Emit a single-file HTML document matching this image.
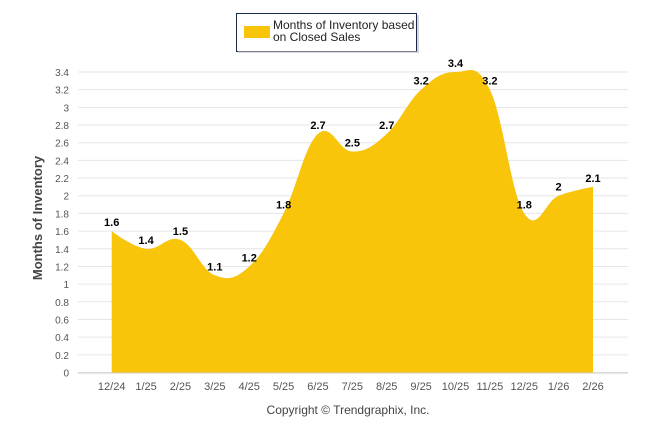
<!DOCTYPE html>
<html><head><meta charset="utf-8"><style>
body{margin:0;background:#fff;font-family:"Liberation Sans",sans-serif}
svg text{font-family:"Liberation Sans",sans-serif}
svg text.n{font-family:"Liberation Sans Narrow","Liberation Sans",sans-serif}
</style></head><body>
<svg id="c" width="646" height="434">
<g>
<rect x="236.5" y="13.5" width="180" height="38" fill="#fff" stroke="#1a2a4a" stroke-width="1"/>
<rect x="238" y="51" width="180" height="2" fill="#bbb" opacity="0.6"/>
<rect x="417" y="15" width="2" height="38" fill="#bbb" opacity="0.6"/>
<rect x="244" y="26" width="26" height="12" fill="#f8c50a"/>
<text class="n" x="273" y="29" font-size="12" fill="#222">Months of Inventory based</text>
<text class="n" x="273" y="41" font-size="12" fill="#222">on Closed Sales</text>
</g>
<text transform="translate(42,218) rotate(-90)" text-anchor="middle" font-size="13" font-weight="bold" fill="#444">Months of Inventory</text>
<text class="n" x="348" y="414" text-anchor="middle" font-size="12" fill="#444">Copyright © Trendgraphix, Inc.</text>
<g id="grid"></g><g id="area"></g><g id="labels"></g>
</svg>
<script>
const categories=["12/24","1/25","2/25","3/25","4/25","5/25","6/25","7/25","8/25","9/25","10/25","11/25","12/25","1/26","2/26"];
const values=[1.6,1.4,1.5,1.1,1.2,1.8,2.7,2.5,2.7,3.2,3.4,3.2,1.8,2,2.1];
const yTicks=[0,0.2,0.4,0.6,0.8,1,1.2,1.4,1.6,1.8,2,2.2,2.4,2.6,2.8,3,3.2,3.4];
const NS="http://www.w3.org/2000/svg";
const x0=111.7,x1=593,gl=78,gr=628,yb=372.5,yt=72;
const X=i=>x0+(x1-x0)*i/(categories.length-1);
const Y=v=>yb-(yb-yt)*v/3.4;
function mk(t,a,p){const e=document.createElementNS(NS,t);for(const k in a)e.setAttribute(k,a[k]);p.appendChild(e);return e;}
const grid=document.getElementById('grid'),lab=document.getElementById('labels'),ar=document.getElementById('area');
yTicks.forEach(v=>{
 const l=mk('line',{x1:gl,x2:gr,y1:Y(v),y2:Y(v),stroke:'#e6e6e6','stroke-width':1},grid);
 
 
 const t=mk('text',{x:69,y:Y(v)+4,'text-anchor':'end','font-size':10,fill:'#555',class:'n'},grid);
 t.textContent=v;
 
 
});
mk('line',{x1:gl,x2:gr,y1:yb+0.5,y2:yb+0.5,stroke:'#ccc'},grid);
categories.forEach((c,i)=>{
 const t=mk('text',{x:X(i),y:390,'text-anchor':'middle','font-size':11,fill:'#555',class:'n'},grid);
 t.textContent=c;
 
 
});
const pts=values.map((v,i)=>[X(i),Y(v)]);
const sm=1.5,den=sm+1;
let d=`M${pts[0][0]},${yb} L${pts[0][0]},${pts[0][1]}`;
function cp(i){
 const p=pts[i],a=pts[i-1],b=pts[i+1];
 if(!a||!b)return [p,p];
 let lx=(sm*p[0]+a[0])/den,ly=(sm*p[1]+a[1])/den,rx=(sm*p[0]+b[0])/den,ry=(sm*p[1]+b[1])/den;
 let corr=0;if(rx!==lx)corr=((ry-ly)*(rx-p[0]))/(rx-lx)+p[1]-ry;
 ly+=corr;ry+=corr;
 return [[lx,ly],[rx,ry]];
}
const C=pts.map((_,i)=>cp(i));
for(let i=1;i<pts.length;i++){const r=C[i-1][1],l=C[i][0];d+=` C${r[0]},${r[1]} ${l[0]},${l[1]} ${pts[i][0]},${pts[i][1]}`;}
d+=` L${pts[pts.length-1][0]},${yb} Z`;
const path=mk('path',{d:d,fill:'#f8c50a'},ar);


values.forEach((v,i)=>{
 const t=mk('text',{x:X(i),y:Y(v)-5,'text-anchor':'middle','font-size':11,'font-weight':'bold',fill:'#000'},lab);
 t.textContent=v;
 
 
});
</script>
</body></html>
